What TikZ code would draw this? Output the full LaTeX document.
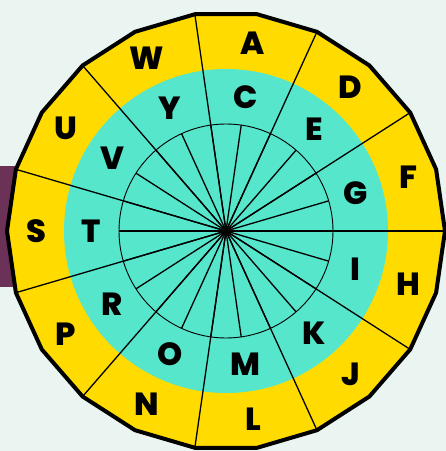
\documentclass[tikz,border=0pt]{standalone}
\usepackage{fontspec}
\setmainfont{Poppins}
\newfontfamily\heavyfont{Poppins}[UprightFont=* ExtraBold]
\definecolor{bgmint}{HTML}{EAF5F1}
\definecolor{plum}{HTML}{6B3157}
\definecolor{sunyellow}{HTML}{FFDB00}
\definecolor{aqua}{HTML}{55E6CC}
\tikzset{
  letterbox/.style={font=\fontsize{32}{32}\heavyfont, inner sep=0pt},
  rimline/.style={draw=black, line width=4pt, line join=miter},
  spokeline/.style={line width=1.3pt},
  hubline/.style={line width=0.9pt}
}

\begin{document}
\begin{tikzpicture}[x=1pt, y=1pt]
  \useasboundingbox (-226,-220) rectangle (220,231);
  \fill[bgmint] (-226,-220) rectangle (220,231);
  \fill[plum] (-226,-56) rectangle (-200,65);
  % yellow 22-gon and teal ring
  \fill[sunyellow] (0:219) \foreach \k in {1,...,21} {-- (\k*360/22:219)} -- cycle;
  \fill[aqua] (0,0) circle (162);
  \draw[hubline] (0,0) circle (107);
  % spokes
  \foreach \k in {0,...,21} {\draw[spokeline] (0,0) -- (\k*360/22:107);}
  \foreach \k in {0,...,10} {\draw[spokeline] (0,0) -- (\k*360/11:219);}
  \draw[rimline] (0:219) \foreach \k in {1,...,21} {-- (\k*360/22:219)} -- cycle;
  % outer letters
  \node[letterbox] (a) at (81.82:190) {A};
  \node[letterbox] (d) at (49.09:190) {D};
  \node[letterbox] (f) at (16.36:190) {F};
  \node[letterbox] (h) at (-16.36:190) {H};
  \node[letterbox] (j) at (-49.09:190) {J};
  \node[letterbox] (l) at (-81.82:190) {L};
  \node[letterbox] (n) at (-114.55:190) {N};
  \node[letterbox] (p) at (-147.27:190) {P};
  \node[letterbox] (s) at (180:190) {S};
  \node[letterbox] (u) at (147.27:190) {U};
  \node[letterbox] (w) at (114.55:190) {W};
  % inner letters
  \node[letterbox] (c) at (81.82:135) {C};
  \node[letterbox] (e) at (49.09:135) {E};
  \node[letterbox] (g) at (16.36:135) {G};
  \node[letterbox] (i) at (-16.36:135) {I};
  \node[letterbox] (k) at (-49.09:135) {K};
  \node[letterbox] (m) at (-81.82:135) {M};
  \node[letterbox] (o) at (-114.55:135) {O};
  \node[letterbox] (r) at (-147.27:135) {R};
  \node[letterbox] (t) at (180:135) {T};
  \node[letterbox] (v) at (147.27:135) {V};
  \node[letterbox] (y) at (114.55:135) {Y};
\end{tikzpicture}
\end{document}
